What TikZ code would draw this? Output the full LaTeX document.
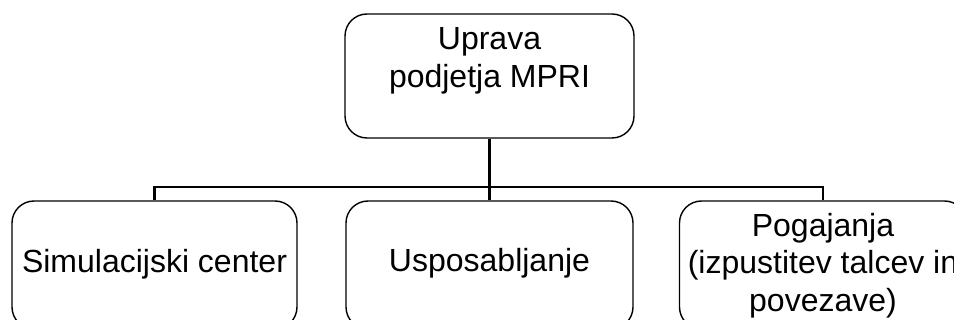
\documentclass[tikz,border=0pt]{standalone}
\usepackage{fontspec}
\setmainfont{Liberation Sans}
\begin{document}
\begin{tikzpicture}[x=1pt,y=-1pt,
  unit/.style={draw, line width=1.4pt, rounded corners=22pt,
    minimum width=287pt, inner sep=0pt},
  caption/.style={align=center, inner sep=0pt,
    font=\fontsize{32}{37.5}\selectfont},
  link/.style={line width=2.2pt}]
\useasboundingbox (0,0) rectangle (954,320);
\clip (0,0) rectangle (954,320);

% management box (text sits in its upper part)
\node[unit, minimum width=289pt, minimum height=124pt] (mgmt) at (489.5,76) {};
\node[caption] (mgmtlabel) at (489.5,61) {Uprava\\podjetja MPRI};

% the three departments
\node[unit, minimum width=285pt, minimum height=128pt] (sim) at (154.5,265) {};
\node[caption, anchor=base] (simlabel) at (154.5,273) {Simulacijski center};

\node[unit, minimum height=128pt] (train) at (489.5,265) {};
\node[caption, anchor=base] (trainlabel) at (489.5,272) {Usposabljanje};

\node[unit, minimum height=128pt] (neg) at (823,265) {};
\node[caption] (neglabel) at (823,265.6) {Pogajanja\\(izpustitev talcev in\\povezave)};

% connectors
\coordinate (split) at (489.5,187);
\draw[link] (mgmt.south) -- (split);
\draw[link] (split) -| (sim.north);
\draw[link] (split) -| (neg.north);
\draw[link] (split) -- (train.north);
\end{tikzpicture}
\end{document}
